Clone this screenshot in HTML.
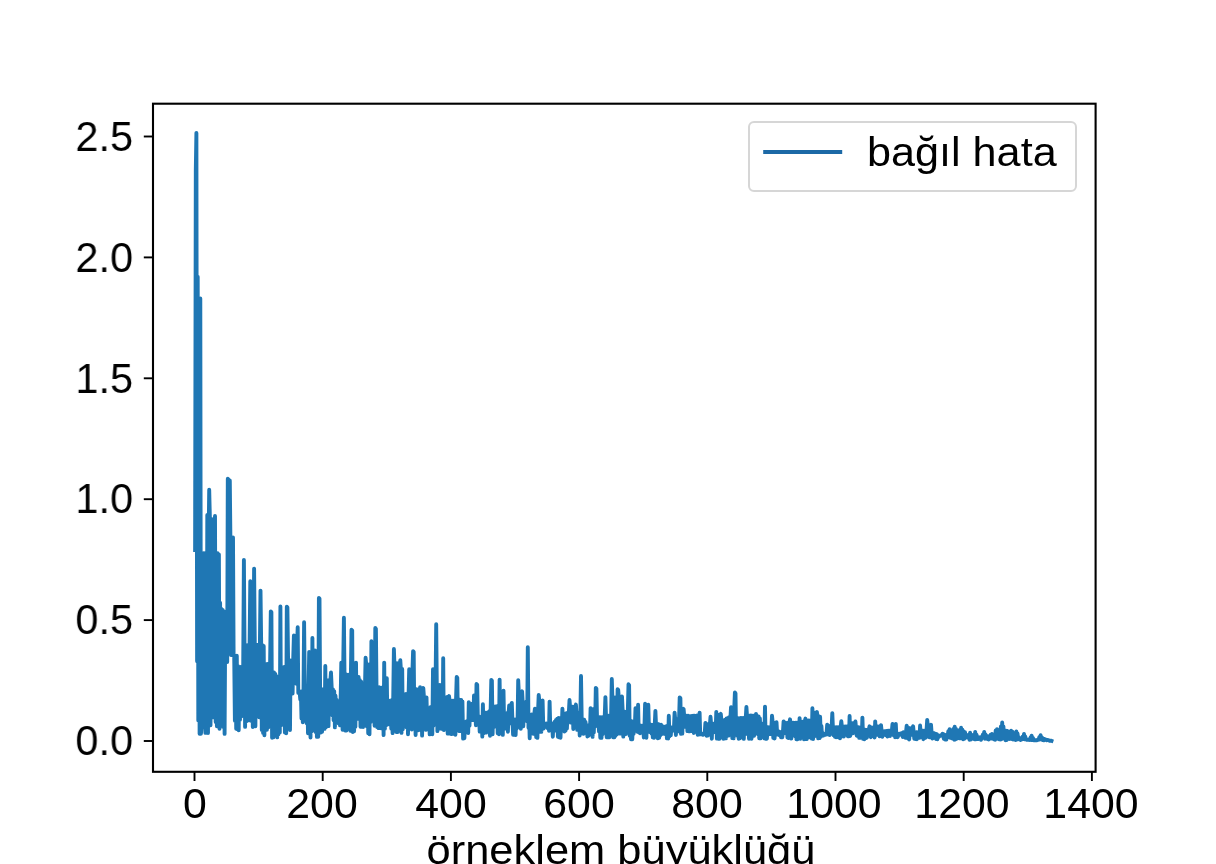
<!DOCTYPE html>
<html lang="tr"><head><meta charset="utf-8"><title>bağıl hata</title>
<style>
html,body{margin:0;padding:0;background:#fff;}
body{width:1216px;height:864px;overflow:hidden;position:relative;font-family:"Liberation Sans",sans-serif;color:#000;}
#fig{position:absolute;left:0;top:0;width:1216px;height:864px;overflow:hidden;background:#fff;}
svg{position:absolute;left:0;top:0;}
.xl,.yl,#xlabel,#legtxt{will-change:transform;}
.xl{position:absolute;top:781.7px;width:120px;text-align:center;font-size:42px;line-height:44px;height:44px;transform:scaleX(1.02);white-space:nowrap;}
.yl{position:absolute;left:0;width:133px;text-align:right;font-size:42px;line-height:44px;height:44px;transform-origin:100% 50%;transform:scaleX(0.985);white-space:nowrap;}
#xlabel{position:absolute;left:321px;top:828px;width:600px;text-align:center;font-size:41px;line-height:44px;height:44px;transform:scaleX(1.06);white-space:nowrap;}
#legend{position:absolute;left:748.4px;top:120.9px;width:324.5px;height:66.9px;border:2px solid #d6d6d6;border-radius:6px;background:rgba(255,255,255,0.8);}
#legtxt{position:absolute;left:866.8px;top:129.9px;font-size:41px;line-height:44px;height:44px;transform-origin:0 50%;transform:scaleX(1.053);white-space:nowrap;}
</style></head><body>
<div id="fig">
<svg width="1216" height="864" viewBox="0 0 1216 864">
<rect x="0" y="0" width="1216" height="864" fill="#ffffff"/>
<path d="M195.1 550.0 L195.8 170.4 L196.4 132.9 L197.1 661.2 L197.7 276.7 L198.3 720.4 L199.0 499.2 L199.6 733.7 L200.3 298.5 L200.9 733.7 L201.6 726.7 L202.2 553.3 L202.8 722.2 L203.5 553.3 L204.1 726.9 L204.8 553.1 L205.4 732.9 L206.0 553.4 L206.7 732.9 L207.3 514.9 L208.0 733.0 L208.6 538.8 L209.2 489.7 L209.9 519.2 L210.5 725.3 L211.2 519.0 L211.8 716.3 L212.4 520.4 L213.1 717.4 L213.7 519.1 L214.4 714.9 L215.0 515.9 L215.7 722.1 L216.3 553.0 L216.9 726.2 L217.6 553.3 L218.2 724.7 L218.9 554.5 L219.5 728.8 L220.1 602.7 L220.8 725.3 L221.4 609.0 L222.1 725.1 L222.7 610.0 L223.3 727.0 L224.0 611.4 L224.6 733.9 L225.3 612.4 L225.9 662.1 L226.6 612.0 L227.2 662.0 L227.8 478.8 L228.5 479.6 L229.1 562.5 L229.8 480.4 L230.4 539.0 L231.0 655.1 L231.7 540.1 L232.3 644.3 L233.0 537.4 L233.6 655.6 L234.2 655.4 L234.9 720.7 L235.5 656.1 L236.2 728.7 L236.8 655.8 L237.4 729.3 L238.1 666.2 L238.7 730.2 L239.4 666.9 L240.0 719.7 L240.7 666.9 L241.3 716.4 L241.9 667.3 L242.6 714.4 L243.2 667.1 L243.9 559.9 L244.5 645.4 L245.1 726.9 L245.8 646.7 L246.4 721.2 L247.1 645.3 L247.7 714.9 L248.3 646.3 L249.0 720.4 L249.6 645.0 L250.3 581.3 L250.9 646.1 L251.5 721.0 L252.2 645.1 L252.8 727.0 L253.5 645.6 L254.1 568.6 L254.8 644.6 L255.4 726.3 L256.0 644.6 L256.7 716.7 L257.3 645.0 L258.0 716.2 L258.6 644.8 L259.2 717.2 L259.9 645.3 L260.5 590.6 L261.2 645.1 L261.8 730.0 L262.4 645.2 L263.1 732.9 L263.7 646.0 L264.4 735.3 L265.0 665.0 L265.7 728.5 L266.3 664.3 L266.9 729.7 L267.6 664.0 L268.2 727.4 L268.9 664.2 L269.5 721.8 L270.1 663.7 L270.8 611.4 L271.4 612.2 L272.1 737.7 L272.7 672.7 L273.3 737.4 L274.0 672.4 L274.6 728.2 L275.3 673.9 L275.9 730.8 L276.5 676.3 L277.2 737.4 L277.8 678.6 L278.5 734.3 L279.1 678.5 L279.8 732.6 L280.4 606.4 L281.0 725.4 L281.7 668.3 L282.3 713.4 L283.0 667.4 L283.6 707.6 L284.2 666.9 L284.9 732.6 L285.5 668.2 L286.2 733.2 L286.8 606.7 L287.4 607.5 L288.1 660.4 L288.7 718.0 L289.4 660.8 L290.0 730.0 L290.6 660.5 L291.3 693.8 L291.9 661.5 L292.6 693.5 L293.2 659.9 L293.9 635.5 L294.5 644.4 L295.1 683.0 L295.8 644.2 L296.4 683.8 L297.1 645.0 L297.7 627.3 L298.3 692.9 L299.0 690.9 L299.6 691.8 L300.3 699.7 L300.9 692.6 L301.5 718.5 L302.2 691.3 L302.8 722.3 L303.5 691.1 L304.1 622.3 L304.8 688.7 L305.4 713.8 L306.0 688.5 L306.7 723.3 L307.3 687.9 L308.0 733.3 L308.6 688.1 L309.2 651.9 L309.9 656.9 L310.5 737.6 L311.2 657.6 L311.8 731.3 L312.4 637.9 L313.1 721.9 L313.7 650.6 L314.4 722.9 L315.0 650.5 L315.6 732.0 L316.3 651.5 L316.9 736.9 L317.6 651.1 L318.2 736.8 L318.9 597.9 L319.5 598.7 L320.1 689.6 L320.8 732.5 L321.4 689.1 L322.1 731.7 L322.7 689.5 L323.3 728.8 L324.0 689.2 L324.6 728.9 L325.3 665.9 L325.9 727.3 L326.5 680.8 L327.2 725.3 L327.8 680.4 L328.5 726.1 L329.1 680.1 L329.8 711.4 L330.4 680.1 L331.0 672.5 L331.7 687.9 L332.3 715.2 L333.0 689.5 L333.6 720.1 L334.2 691.1 L334.9 727.4 L335.5 695.8 L336.2 718.6 L336.8 700.0 L337.4 718.1 L338.1 701.6 L338.7 723.4 L339.4 702.1 L340.0 725.4 L340.6 701.5 L341.3 662.6 L341.9 666.0 L342.6 729.8 L343.2 666.4 L343.9 617.7 L344.5 674.3 L345.1 730.5 L345.8 674.3 L346.4 730.5 L347.1 674.7 L347.7 723.9 L348.3 675.2 L349.0 722.1 L349.6 674.4 L350.3 730.7 L350.9 674.6 L351.5 629.7 L352.2 630.5 L352.8 732.1 L353.5 665.4 L354.1 731.3 L354.8 664.8 L355.4 726.8 L356.0 662.6 L356.7 718.5 L357.3 677.4 L358.0 718.8 L358.6 677.0 L359.2 718.5 L359.9 680.3 L360.5 726.8 L361.2 681.8 L361.8 726.7 L362.4 685.3 L363.1 727.0 L363.7 687.1 L364.4 716.7 L365.0 686.5 L365.6 657.7 L366.3 665.3 L366.9 726.6 L367.6 664.8 L368.2 733.2 L368.9 664.4 L369.5 734.2 L370.1 665.0 L370.8 721.9 L371.4 641.3 L372.1 718.4 L372.7 646.9 L373.3 712.0 L374.0 646.3 L374.6 725.8 L375.3 628.0 L375.9 628.8 L376.5 687.0 L377.2 727.1 L377.8 687.9 L378.5 728.1 L379.1 687.3 L379.7 723.6 L380.4 687.9 L381.0 728.3 L381.7 687.7 L382.3 724.1 L383.0 688.3 L383.6 735.1 L384.2 662.6 L384.9 728.8 L385.5 678.0 L386.2 725.2 L386.8 678.2 L387.4 722.7 L388.1 700.3 L388.7 724.3 L389.4 701.4 L390.0 720.9 L390.6 700.9 L391.3 728.8 L391.9 700.0 L392.6 733.1 L393.2 699.8 L393.9 649.0 L394.5 666.9 L395.1 727.4 L395.8 664.8 L396.4 732.0 L397.1 663.3 L397.7 732.1 L398.3 663.7 L399.0 723.6 L399.6 665.1 L400.3 660.2 L400.9 669.6 L401.5 732.9 L402.2 669.0 L402.8 729.2 L403.5 694.0 L404.1 722.7 L404.7 694.7 L405.4 726.4 L406.0 694.0 L406.7 727.5 L407.3 694.1 L408.0 734.2 L408.6 694.1 L409.2 669.2 L409.9 681.7 L410.5 727.9 L411.2 671.9 L411.8 729.6 L412.4 672.0 L413.1 651.1 L413.7 651.9 L414.4 726.7 L415.0 689.4 L415.6 735.0 L416.3 689.3 L416.9 729.9 L417.6 689.7 L418.2 730.3 L418.8 689.1 L419.5 729.8 L420.1 687.3 L420.8 726.7 L421.4 689.4 L422.1 735.6 L422.7 689.9 L423.3 688.1 L424.0 697.6 L424.6 723.8 L425.3 697.9 L425.9 729.9 L426.5 697.4 L427.2 725.1 L427.8 708.4 L428.5 720.5 L429.1 708.1 L429.7 734.4 L430.4 707.3 L431.0 734.1 L431.7 707.4 L432.3 734.2 L433.0 669.2 L433.6 725.5 L434.2 707.7 L434.9 723.9 L435.5 690.0 L436.2 624.3 L436.8 686.4 L437.4 731.1 L438.1 685.4 L438.7 725.5 L439.4 685.0 L440.0 728.5 L440.6 685.1 L441.3 728.7 L441.9 685.3 L442.6 727.7 L443.2 658.2 L443.8 730.1 L444.5 697.7 L445.1 727.9 L445.8 698.1 L446.4 728.5 L447.1 697.0 L447.7 733.6 L448.3 697.0 L449.0 696.0 L449.6 700.6 L450.3 733.6 L450.9 701.3 L451.5 734.1 L452.2 700.8 L452.8 729.9 L453.5 700.6 L454.1 733.9 L454.7 700.9 L455.4 734.8 L456.0 701.1 L456.7 677.0 L457.3 677.8 L458.0 730.0 L458.6 699.1 L459.2 731.1 L459.9 699.7 L460.5 724.4 L461.2 699.9 L461.8 731.1 L462.4 701.4 L463.1 738.6 L463.7 721.7 L464.4 738.3 L465.0 721.9 L465.6 729.7 L466.3 721.5 L466.9 728.8 L467.6 721.3 L468.2 733.0 L468.8 702.1 L469.5 725.6 L470.1 704.3 L470.8 719.1 L471.4 704.0 L472.1 720.1 L472.7 704.0 L473.3 720.0 L474.0 695.5 L474.6 713.7 L475.3 709.3 L475.9 725.2 L476.5 684.0 L477.2 684.8 L477.8 716.4 L478.5 723.2 L479.1 716.5 L479.7 731.6 L480.4 716.9 L481.0 730.9 L481.7 717.0 L482.3 736.6 L482.9 704.3 L483.6 733.2 L484.2 713.9 L484.9 731.2 L485.5 712.8 L486.2 732.6 L486.8 712.8 L487.4 727.6 L488.1 712.1 L488.7 729.3 L489.4 711.3 L490.0 735.7 L490.6 711.5 L491.3 679.9 L491.9 680.7 L492.6 734.3 L493.2 707.3 L493.8 727.1 L494.5 706.8 L495.1 723.1 L495.8 706.4 L496.4 723.5 L497.1 706.2 L497.7 733.3 L498.3 706.6 L499.0 734.3 L499.6 679.6 L500.3 727.3 L500.9 692.4 L501.5 724.4 L502.2 692.4 L502.8 734.9 L503.5 690.6 L504.1 724.8 L504.7 713.3 L505.4 728.6 L506.0 713.5 L506.7 722.6 L507.3 713.0 L507.9 731.8 L508.6 713.0 L509.2 705.4 L509.9 706.8 L510.5 723.3 L511.2 706.9 L511.8 702.9 L512.4 719.9 L513.1 734.7 L513.7 719.9 L514.4 734.7 L515.0 719.5 L515.6 735.1 L516.3 719.5 L516.9 728.3 L517.6 720.0 L518.2 680.2 L518.8 692.3 L519.5 724.4 L520.1 692.8 L520.8 728.7 L521.4 692.6 L522.1 691.4 L522.7 702.7 L523.3 726.2 L524.0 702.2 L524.6 719.2 L525.3 702.2 L525.9 719.2 L526.5 703.3 L527.2 721.4 L527.8 647.3 L528.5 727.8 L529.1 714.7 L529.7 738.3 L530.4 715.1 L531.0 731.4 L531.7 714.5 L532.3 733.4 L532.9 714.5 L533.6 733.9 L534.2 714.9 L534.9 708.7 L535.5 708.8 L536.2 737.1 L536.8 709.7 L537.4 737.9 L538.1 710.1 L538.7 695.0 L539.4 701.4 L540.0 731.9 L540.6 701.7 L541.3 731.9 L541.9 701.3 L542.6 700.5 L543.2 724.1 L543.8 728.5 L544.5 724.4 L545.1 723.5 L545.8 723.8 L546.4 723.5 L547.0 723.8 L547.7 728.3 L548.3 723.7 L549.0 730.9 L549.6 701.6 L550.3 728.1 L550.9 724.3 L551.5 729.9 L552.2 723.7 L552.8 736.7 L553.5 723.5 L554.1 730.6 L554.7 721.8 L555.4 729.2 L556.0 719.9 L556.7 731.1 L557.3 718.7 L557.9 736.8 L558.6 718.0 L559.2 737.4 L559.9 718.3 L560.5 737.7 L561.2 717.8 L561.8 728.4 L562.4 708.7 L563.1 720.9 L563.7 713.4 L564.4 731.5 L565.0 713.7 L565.6 730.7 L566.3 713.3 L566.9 728.6 L567.6 713.0 L568.2 718.4 L568.8 713.3 L569.5 700.0 L570.1 707.2 L570.8 722.6 L571.4 706.7 L572.0 720.4 L572.7 706.8 L573.3 729.0 L574.0 706.6 L574.6 726.5 L575.3 706.5 L575.9 704.6 L576.5 713.1 L577.2 729.8 L577.8 713.6 L578.5 729.8 L579.1 713.0 L579.7 735.5 L580.4 712.9 L581.0 676.0 L581.7 718.9 L582.3 733.4 L582.9 719.4 L583.6 733.9 L584.2 719.6 L584.9 732.8 L585.5 721.9 L586.2 729.5 L586.8 725.5 L587.4 736.5 L588.1 725.6 L588.7 735.7 L589.4 725.7 L590.0 731.8 L590.6 708.1 L591.3 730.3 L591.9 709.5 L592.6 736.9 L593.2 709.3 L593.8 732.4 L594.5 709.6 L595.1 726.5 L595.8 687.9 L596.4 688.7 L597.0 717.5 L597.7 725.9 L598.3 717.6 L599.0 731.3 L599.6 717.2 L600.3 737.8 L600.9 717.2 L601.5 737.9 L602.2 717.3 L602.8 734.2 L603.5 717.4 L604.1 732.5 L604.7 717.3 L605.4 697.1 L606.0 716.1 L606.7 737.3 L607.3 715.8 L607.9 737.2 L608.6 715.6 L609.2 737.4 L609.9 715.9 L610.5 732.7 L611.1 716.0 L611.8 679.0 L612.4 697.5 L613.1 737.2 L613.7 697.5 L614.4 737.2 L615.0 697.5 L615.6 735.8 L616.3 697.5 L616.9 734.3 L617.6 689.2 L618.2 690.0 L618.8 697.6 L619.5 733.5 L620.1 698.0 L620.8 733.6 L621.4 697.9 L622.0 696.6 L622.7 711.5 L623.3 736.6 L624.0 711.4 L624.6 728.5 L625.3 711.9 L625.9 734.0 L626.5 711.7 L627.2 732.5 L627.8 712.0 L628.5 684.3 L629.1 685.1 L629.7 735.8 L630.4 721.7 L631.0 739.3 L631.7 721.3 L632.3 739.3 L632.9 721.6 L633.6 733.9 L634.2 721.7 L634.9 724.8 L635.5 708.1 L636.1 723.7 L636.8 709.7 L637.4 731.8 L638.1 704.8 L638.7 732.3 L639.4 725.4 L640.0 733.4 L640.6 725.8 L641.3 730.7 L641.9 725.8 L642.6 729.6 L643.2 725.7 L643.8 737.5 L644.5 725.5 L645.1 703.7 L645.8 706.6 L646.4 737.8 L647.0 706.5 L647.7 731.9 L648.3 704.8 L649.0 731.9 L649.6 724.8 L650.3 732.2 L650.9 724.8 L651.5 733.7 L652.2 725.0 L652.8 737.3 L653.5 725.3 L654.1 737.9 L654.7 725.3 L655.4 710.9 L656.0 724.6 L656.7 732.7 L657.3 724.0 L657.9 738.3 L658.6 724.3 L659.2 737.9 L659.9 724.7 L660.5 735.2 L661.1 724.6 L661.8 731.0 L662.4 726.2 L663.1 733.7 L663.7 726.6 L664.4 732.4 L665.0 726.7 L665.6 734.4 L666.3 726.2 L666.9 738.3 L667.6 726.6 L668.2 738.5 L668.8 715.8 L669.5 736.4 L670.1 727.3 L670.8 735.4 L671.4 727.5 L672.0 730.1 L672.7 727.6 L673.3 730.5 L674.0 727.4 L674.6 712.6 L675.2 719.4 L675.9 735.0 L676.5 719.0 L677.2 730.6 L677.8 719.1 L678.5 731.2 L679.1 719.1 L679.7 697.4 L680.4 698.2 L681.0 733.9 L681.7 710.2 L682.3 733.6 L682.9 710.4 L683.6 708.9 L684.2 716.0 L684.9 726.7 L685.5 715.9 L686.1 725.5 L686.8 715.7 L687.4 731.1 L688.1 715.6 L688.7 731.2 L689.4 716.4 L690.0 731.3 L690.6 716.3 L691.3 731.0 L691.9 716.0 L692.6 728.5 L693.2 715.8 L693.8 733.0 L694.5 715.8 L695.1 731.9 L695.8 715.9 L696.4 727.9 L697.0 715.5 L697.7 734.7 L698.3 715.6 L699.0 734.5 L699.6 712.6 L700.2 734.4 L700.9 734.0 L701.5 734.3 L702.2 733.7 L702.8 734.8 L703.5 734.6 L704.1 734.3 L704.7 733.7 L705.4 722.9 L706.0 724.6 L706.7 735.8 L707.3 724.3 L707.9 735.5 L708.6 725.0 L709.2 733.7 L709.9 724.7 L710.5 716.8 L711.1 724.0 L711.8 738.7 L712.4 724.6 L713.1 731.4 L713.7 723.7 L714.4 729.1 L715.0 723.8 L715.6 732.6 L716.3 711.9 L716.9 738.6 L717.6 714.9 L718.2 738.7 L718.8 714.9 L719.5 738.7 L720.1 715.1 L720.8 713.9 L721.4 720.3 L722.0 735.5 L722.7 720.1 L723.3 738.7 L724.0 720.2 L724.6 738.5 L725.2 719.7 L725.9 738.4 L726.5 718.5 L727.2 734.6 L727.8 718.0 L728.5 735.6 L729.1 717.2 L729.7 735.0 L730.4 718.6 L731.0 707.3 L731.7 709.2 L732.3 738.1 L732.9 709.3 L733.6 738.4 L734.2 709.7 L734.9 692.5 L735.5 693.3 L736.1 734.9 L736.8 718.1 L737.4 735.8 L738.1 718.3 L738.7 738.7 L739.3 718.5 L740.0 738.3 L740.6 718.0 L741.3 735.7 L741.9 718.0 L742.6 734.2 L743.2 718.0 L743.8 738.9 L744.5 718.6 L745.1 734.1 L745.8 717.2 L746.4 707.0 L747.0 715.7 L747.7 734.1 L748.3 716.1 L749.0 738.7 L749.6 715.6 L750.2 738.5 L750.9 715.5 L751.5 738.7 L752.2 715.6 L752.8 734.2 L753.5 715.7 L754.1 735.8 L754.7 715.6 L755.4 732.4 L756.0 713.9 L756.7 732.6 L757.3 715.9 L757.9 734.2 L758.6 716.4 L759.2 738.2 L759.9 718.5 L760.5 738.4 L761.1 723.3 L761.8 732.2 L762.4 727.9 L763.1 736.1 L763.7 728.0 L764.3 738.4 L765.0 706.6 L765.6 738.8 L766.3 727.2 L766.9 738.7 L767.6 727.3 L768.2 734.6 L768.8 727.4 L769.5 734.1 L770.1 727.2 L770.8 734.1 L771.4 727.4 L772.0 715.6 L772.7 722.7 L773.3 737.9 L774.0 722.8 L774.6 738.5 L775.2 722.9 L775.9 734.3 L776.5 722.2 L777.2 734.6 L777.8 731.6 L778.5 731.3 L779.1 731.7 L779.7 735.4 L780.4 732.1 L781.0 737.2 L781.7 732.2 L782.3 737.2 L782.9 732.5 L783.6 721.4 L784.2 722.8 L784.9 731.5 L785.5 722.6 L786.1 733.3 L786.8 723.1 L787.4 737.5 L788.1 722.6 L788.7 738.1 L789.3 723.0 L790.0 719.3 L790.6 722.8 L791.3 738.6 L791.9 722.8 L792.6 733.0 L793.2 722.7 L793.8 734.4 L794.5 722.9 L795.1 736.2 L795.8 722.7 L796.4 739.2 L797.0 722.6 L797.7 739.3 L798.3 722.6 L799.0 738.4 L799.6 718.1 L800.2 738.8 L800.9 721.6 L801.5 737.7 L802.2 721.8 L802.8 736.7 L803.4 721.6 L804.1 739.3 L804.7 721.5 L805.4 718.6 L806.0 720.7 L806.7 739.1 L807.3 720.5 L807.9 737.7 L808.6 720.4 L809.2 735.2 L809.9 720.8 L810.5 737.4 L811.1 720.4 L811.8 738.6 L812.4 708.2 L813.1 739.0 L813.7 712.8 L814.3 736.3 L815.0 712.8 L815.6 735.7 L816.3 712.7 L816.9 712.0 L817.6 716.5 L818.2 738.4 L818.8 716.1 L819.5 738.1 L820.1 716.8 L820.8 736.8 L821.4 726.0 L822.0 735.1 L822.7 734.1 L823.3 735.6 L824.0 733.8 L824.6 734.9 L825.2 733.8 L825.9 734.6 L826.5 734.0 L827.2 724.7 L827.8 725.9 L828.4 734.6 L829.1 726.2 L829.7 735.1 L830.4 725.9 L831.0 731.7 L831.7 726.0 L832.3 713.2 L832.9 727.6 L833.6 735.4 L834.2 727.3 L834.9 736.8 L835.5 727.5 L836.1 737.3 L836.8 727.3 L837.4 734.6 L838.1 727.3 L838.7 737.4 L839.3 727.4 L840.0 738.4 L840.6 727.5 L841.3 721.1 L841.9 726.7 L842.6 736.3 L843.2 726.5 L843.8 736.5 L844.5 726.7 L845.1 734.3 L845.8 726.4 L846.4 733.5 L847.0 726.4 L847.7 736.2 L848.3 726.4 L849.0 736.3 L849.6 716.0 L850.2 736.0 L850.9 723.1 L851.5 733.2 L852.2 723.1 L852.8 733.4 L853.4 723.3 L854.1 732.5 L854.7 723.1 L855.4 721.4 L856.0 727.7 L856.7 735.7 L857.3 727.6 L857.9 735.8 L858.6 727.2 L859.2 737.8 L859.9 727.6 L860.5 737.8 L861.1 727.2 L861.8 736.4 L862.4 717.6 L863.1 738.9 L863.7 729.9 L864.3 739.3 L865.0 729.7 L865.6 738.3 L866.3 730.0 L866.9 737.7 L867.5 729.8 L868.2 734.0 L868.8 729.8 L869.5 726.3 L870.1 727.2 L870.8 737.2 L871.4 727.4 L872.0 734.6 L872.7 727.7 L873.3 736.3 L874.0 727.4 L874.6 737.5 L875.2 721.4 L875.9 733.8 L876.5 726.6 L877.2 734.9 L877.8 726.4 L878.4 734.0 L879.1 726.6 L879.7 736.4 L880.4 726.4 L881.0 725.2 L881.7 731.7 L882.3 736.7 L882.9 731.3 L883.6 735.2 L884.2 731.3 L884.9 734.5 L885.5 731.1 L886.1 735.2 L886.8 730.9 L887.4 736.6 L888.1 730.7 L888.7 735.9 L889.3 730.7 L890.0 736.0 L890.6 730.7 L891.3 733.6 L891.9 730.5 L892.5 723.9 L893.2 725.0 L893.8 735.5 L894.5 724.8 L895.1 737.2 L895.8 723.9 L896.4 737.1 L897.0 733.8 L897.7 737.2 L898.3 734.1 L899.0 733.7 L899.6 733.8 L900.2 734.7 L900.9 733.6 L901.5 734.5 L902.2 732.9 L902.8 737.0 L903.4 732.1 L904.1 736.6 L904.7 732.2 L905.4 737.7 L906.0 732.3 L906.7 725.8 L907.3 728.2 L907.9 738.3 L908.6 728.0 L909.2 739.5 L909.9 728.1 L910.5 735.2 L911.1 728.5 L911.8 734.7 L912.4 728.0 L913.1 726.3 L913.7 732.4 L914.3 738.8 L915.0 732.3 L915.6 739.1 L916.3 732.3 L916.9 739.2 L917.5 732.4 L918.2 737.9 L918.8 732.5 L919.5 737.8 L920.1 725.5 L920.8 736.8 L921.4 730.9 L922.0 737.2 L922.7 730.6 L923.3 739.2 L924.0 730.6 L924.6 738.2 L925.2 730.7 L925.9 737.5 L926.5 730.6 L927.2 719.9 L927.8 725.3 L928.4 736.3 L929.1 725.4 L929.7 737.4 L930.4 725.5 L931.0 724.7 L931.6 733.0 L932.3 738.5 L932.9 733.0 L933.6 737.8 L934.2 733.1 L934.9 736.0 L935.5 733.8 L936.1 739.0 L936.8 734.2 L937.4 739.3 L938.1 735.1 L938.7 736.9 L939.3 735.6 L940.0 735.7 L940.6 735.7 L941.3 735.6 L941.9 734.7 L942.5 733.7 L943.2 734.0 L943.8 738.8 L944.5 734.7 L945.1 739.6 L945.8 735.9 L946.4 739.6 L947.0 734.7 L947.7 736.4 L948.3 731.1 L949.0 737.1 L949.6 729.1 L950.2 737.9 L950.9 731.1 L951.5 738.2 L952.2 731.1 L952.8 737.6 L953.4 728.9 L954.1 739.7 L954.7 726.6 L955.4 739.5 L956.0 728.9 L956.6 738.7 L957.3 731.8 L957.9 737.7 L958.6 731.6 L959.2 738.2 L959.9 729.6 L960.5 738.3 L961.1 727.8 L961.8 737.3 L962.4 729.6 L963.1 739.3 L963.7 731.5 L964.3 738.9 L965.0 732.3 L965.6 737.7 L966.3 734.9 L966.9 736.7 L967.5 736.6 L968.2 737.5 L968.8 734.8 L969.5 739.7 L970.1 732.7 L970.8 739.6 L971.4 734.8 L972.0 737.2 L972.7 737.5 L973.3 738.7 L974.0 734.7 L974.6 739.3 L975.2 732.0 L975.9 739.3 L976.5 734.7 L977.2 738.8 L977.8 737.3 L978.4 739.0 L979.1 737.5 L979.7 738.8 L980.4 737.4 L981.0 739.8 L981.6 737.2 L982.3 737.0 L982.9 734.4 L983.6 737.4 L984.2 732.0 L984.9 738.8 L985.5 734.4 L986.1 737.7 L986.8 736.9 L987.4 739.1 L988.1 736.3 L988.7 739.5 L989.3 736.3 L990.0 738.7 L990.6 734.7 L991.3 738.6 L991.9 734.0 L992.5 738.0 L993.2 734.7 L993.8 739.3 L994.5 734.7 L995.1 739.8 L995.7 730.5 L996.4 737.4 L997.0 729.1 L997.7 738.7 L998.3 730.5 L999.0 739.4 L999.6 730.3 L1000.2 739.6 L1000.9 726.4 L1001.5 739.2 L1002.2 722.5 L1002.8 738.3 L1003.4 726.4 L1004.1 738.1 L1004.7 730.9 L1005.4 740.2 L1006.0 730.7 L1006.6 740.0 L1007.3 730.9 L1007.9 738.4 L1008.6 731.8 L1009.2 739.1 L1009.9 731.6 L1010.5 738.7 L1011.1 730.7 L1011.8 739.1 L1012.4 731.6 L1013.1 739.5 L1013.7 733.2 L1014.3 739.3 L1015.0 733.4 L1015.6 740.0 L1016.3 731.5 L1016.9 739.5 L1017.5 733.4 L1018.2 739.2 L1018.8 737.4 L1019.5 738.7 L1020.1 738.3 L1020.7 740.0 L1021.4 738.5 L1022.0 739.2 L1022.7 736.5 L1023.3 738.9 L1024.0 734.0 L1024.6 739.2 L1025.2 736.5 L1025.9 739.5 L1026.5 739.7 L1027.2 739.8 L1027.8 739.8 L1028.4 739.8 L1029.1 740.0 L1029.7 739.9 L1030.4 737.8 L1031.0 740.0 L1031.6 735.6 L1032.3 740.1 L1032.9 737.8 L1033.6 740.1 L1034.2 740.3 L1034.9 740.2 L1035.5 740.3 L1036.1 740.3 L1036.8 740.2 L1037.4 739.9 L1038.1 739.8 L1038.7 739.6 L1039.3 737.3 L1040.0 739.4 L1040.6 735.3 L1041.3 739.4 L1041.9 737.3 L1042.5 739.9 L1043.2 738.7 L1043.8 740.3 L1044.5 739.1 L1045.1 739.8 L1045.7 739.5 L1046.4 740.3 L1047.0 739.9 L1047.7 739.9 L1048.3 740.2 L1049.0 740.4 L1049.6 740.7 L1050.2 740.7 L1050.9 740.7 L1051.5 740.9" fill="none" stroke="#1f77b4" stroke-width="3.9" stroke-linejoin="round" stroke-linecap="square"/>
<g stroke="#000" stroke-width="1.9" fill="none"><line x1="194.5" y1="771.8" x2="194.5" y2="781.0"/><line x1="322.7" y1="771.8" x2="322.7" y2="781.0"/><line x1="450.9" y1="771.8" x2="450.9" y2="781.0"/><line x1="579.1" y1="771.8" x2="579.1" y2="781.0"/><line x1="707.3" y1="771.8" x2="707.3" y2="781.0"/><line x1="835.5" y1="771.8" x2="835.5" y2="781.0"/><line x1="963.7" y1="771.8" x2="963.7" y2="781.0"/><line x1="1091.9" y1="771.8" x2="1091.9" y2="781.0"/><line x1="143.8" y1="741.0" x2="153.0" y2="741.0"/><line x1="143.8" y1="620.1" x2="153.0" y2="620.1"/><line x1="143.8" y1="499.2" x2="153.0" y2="499.2"/><line x1="143.8" y1="378.3" x2="153.0" y2="378.3"/><line x1="143.8" y1="257.4" x2="153.0" y2="257.4"/><line x1="143.8" y1="136.5" x2="153.0" y2="136.5"/></g><g stroke="#000" stroke-width="2.1" fill="none">
<rect x="153.0" y="103.7" width="942.6" height="668.1" stroke-linejoin="miter"/>
</g>
</svg>
<div class="xl" style="left:134.8px">0</div><div class="xl" style="left:261.5px">200</div><div class="xl" style="left:391.2px">400</div><div class="xl" style="left:519.0px">600</div><div class="xl" style="left:646.5px">800</div><div class="xl" style="left:774.0px">1000</div><div class="xl" style="left:902.1px">1200</div><div class="xl" style="left:1030.6px">1400</div>
<div class="yl" style="top:719.2px">0.0</div><div class="yl" style="top:598.3px">0.5</div><div class="yl" style="top:477.4px">1.0</div><div class="yl" style="top:356.5px">1.5</div><div class="yl" style="top:235.6px">2.0</div><div class="yl" style="top:114.7px">2.5</div>
<div id="xlabel">örneklem büyüklüğü</div>
<div id="legend"></div>
<svg width="1216" height="864" viewBox="0 0 1216 864" style="pointer-events:none"><line x1="763.2" y1="152" x2="842.2" y2="152" stroke="#1c69a6" stroke-width="3.8"/></svg>
<div id="legtxt">bağıl hata</div>
</div>
</body></html>
